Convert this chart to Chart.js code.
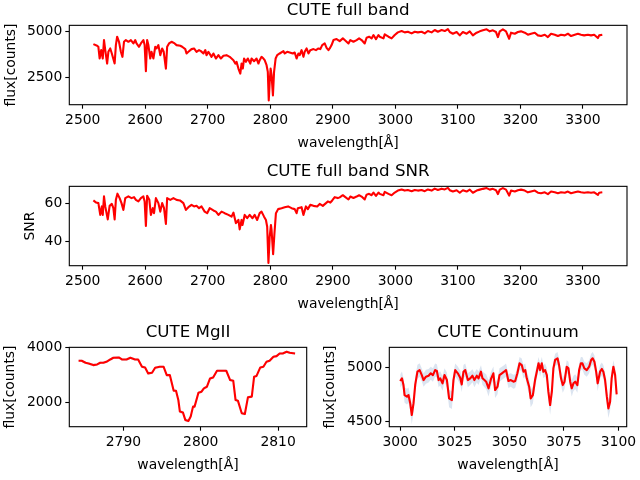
<!DOCTYPE html>
<html><head><meta charset="utf-8">
<script src="https://cdn.jsdelivr.net/npm/chart.js@4.4.0/dist/chart.umd.min.js"></script>
<style>
html,body{margin:0;padding:0;background:#fff;}
body{width:640px;height:480px;position:relative;overflow:hidden;}
canvas{position:absolute;}
</style></head><body>
<canvas id="c1" width="640" height="160" style="left:0;top:0;width:640px;height:160px"></canvas>
<canvas id="c2" width="640" height="160" style="left:0;top:161px;width:640px;height:160px"></canvas>
<canvas id="c3" width="320" height="158" style="left:0;top:322px;width:320px;height:158px"></canvas>
<canvas id="c4" width="320" height="158" style="left:320px;top:322px;width:320px;height:158px"></canvas>
<script>
// ---------- DATA ----------
const fullWave = [
2517,2523,2525,2527,2529.5,2532,2534,2536,2539,2541,
2544,2546.5,2551,2553,2555,2558,2561,2563.5,2566,2569,
2573,2577,2581,2584,2586,2590,2593,2597,2599,2601,
2603,2605,2608,2610,2613,2616,2618,2621,2624,2627,
2629.5,2633,2635,2638,2642,2647,2650,2656,2659,2664,
2666,2669,2674,2678,2682,2686,2689,2693,2696,2698,
2701,2706,2709,2713,2717,2721,2725,2730,2735,2738,
2741,2744,2746,2749,2752,2754,2756,2758,2761,2764,
2768,2770,2774,2778,2781,2783,2786,2789,2791,2794,
2796,2797.5,2799,2800.5,2802,2804.2,2806,2808.5,2811,2815,
2821,2823,2827,2831,2836,2839,2842,2845,2847,2850,
2853,2855,2858,2861,2864,2869,2873,2877,2880,2883,
2887,2890,2893,2895,2898,2901,2906,2911,2916,2919,
2925,2928,2933,2938,2942,2946,2951,2954,2958,2962,
2965,2969,2973,2975,2981,2983,2989,2994,2999,3004,
3010,3015,3020,3026,3031,3036,3042,3047,3052,3058,
3063,3068,3074,3079,3084,3087,3092,3098,3103,3108,
3114,3119,3124,3130,3135,3140,3146,3151,3156,3161,
3164,3167,3172,3177,3182,3185,3191,3196,3201,3207,
3212,3217,3223,3228,3233,3239,3244,3249,3255,3260,
3265,3271,3276,3281,3287,3292,3297,3302,3308,3313,
3318,3324,3326,3331];
const fullFlux = [
4306,4215,4160,3522,3978,3522,4525,3978,3248,3887,
4069,3795,3248,4251,4707,4433,3887,3613,4433,4525,
4433,4525,4342,4525,4342,4160,4342,4525,4251,2829,
4525,4251,3522,3887,3522,4160,4069,4251,3704,4069,
3887,2975,4160,4342,4433,4342,4251,4215,4160,4033,
3795,3887,4033,4069,3887,3978,3923,3795,3978,3704,
3887,3613,3795,3522,3704,3522,3668,3704,3613,3522,
3431,3249,3340,2975,2702,3249,2975,3522,3340,3522,
3249,3522,3376,3522,3249,3431,3613,3522,3431,3157,
2793,1243,2246,2975,2611,1517,2793,3522,3704,3795,
3923,3795,3887,3850,3795,3850,3522,3795,3704,3978,
3613,3887,4069,3795,3978,4033,3978,4069,4033,4251,
4342,4105,3978,4069,4251,4525,4579,4470,4616,4525,
4342,4525,4433,4525,4616,4525,4342,4652,4707,4616,
4798,4579,4798,4707,4616,4835,4707,4616,4798,4944,
5017,4944,4980,4889,4980,4944,4980,4889,5017,4944,
5071,4980,5071,5017,5126,4962,4871,4962,4780,4962,
4871,4999,4780,4926,4999,5053,5108,4999,5053,4962,
4689,4999,5108,4999,4597,4926,4871,4962,4999,4926,
4816,4871,4926,4780,4743,4816,4689,4871,4816,4743,
4816,4780,4871,4743,4816,4871,4816,4780,4816,4780,
4816,4634,4780,4816];

const snrWave = [
2517,2521.5,2525,2528,2530.5,2532,2534,2536,2540,2543,
2546.5,2549,2551,2553,2555.5,2559,2562,2565,2568,2573,
2578,2582,2585,2589,2593,2597,2599,2601,2603,2606.5,
2609,2612,2614,2617,2621,2624,2627,2630,2633,2635,
2640,2645,2650,2655.5,2661,2665,2669,2674,2678,2682,
2686,2690,2695,2699,2703,2709,2713,2717,2722,2727,
2733,2738,2741,2745,2749,2751,2754,2755.5,2759,2763,
2767,2771.5,2775,2779,2783,2786,2790,2793,2795,2797,
2799,2801,2802,2804.5,2806.6,2809,2812.5,2818,2823,2828.4,
2834,2839,2842,2844,2850,2853,2857,2860,2864,2869,
2875,2879,2884,2889,2892,2896,2899,2903,2908,2911,
2916,2919,2925,2928,2933,2938,2942,2946,2951,2954,
2958,2962,2965,2969,2973,2975,2981,2983,2989,2994,
2999,3004,3010,3015,3020,3026,3031,3036,3042,3047,
3052,3058,3063,3068,3074,3079,3084,3087,3092,3098,
3103,3108,3114,3119,3124,3130,3135,3140,3146,3151,
3156,3161,3164,3167,3172,3177,3182,3185,3191,3196,
3201,3207,3212,3217,3223,3228,3233,3239,3244,3249,
3255,3260,3265,3271,3276,3281,3287,3292,3297,3302,
3308,3313,3318,3324,3326,3331];
const snrVals = [
61.4,60.3,60.0,53.9,58.3,53.9,63.5,58.3,51.6,58.6,
59.6,57.4,51.6,61.7,64.9,62.6,60.0,56.5,62.6,63.5,
62.6,63.1,61.7,60.9,62.6,63.5,60.9,48.2,63.8,61.7,
53.9,57.4,54.8,62.6,60.0,55.6,60.0,57.4,49.2,62.6,
61.7,62.6,61.7,61.4,60.0,56.5,57.9,59.1,58.3,58.6,
57.4,58.3,55.6,54.8,57.4,56.2,55.6,53.9,55.6,54.8,
53.9,53.0,55.1,49.6,51.3,46.4,51.3,48.7,53.9,52.2,
53.9,52.2,53.9,51.3,54.8,55.6,53.0,51.3,47.8,29.0,
42.6,48.7,46.1,33.6,44.3,54.8,56.9,57.4,57.9,58.3,
57.4,56.9,54.8,57.4,57.9,53.9,58.3,56.9,59.1,58.6,
58.3,59.6,58.6,60.0,60.9,60.3,61.4,63.1,62.6,63.0,
64.1,63.4,61.9,63.4,62.7,63.4,64.1,63.4,61.9,64.4,
64.8,64.1,65.5,63.8,65.5,64.8,64.1,65.8,64.8,64.1,
65.5,66.5,67.1,66.5,66.8,66.2,66.8,66.5,66.8,66.2,
67.1,66.5,67.5,66.8,67.5,67.1,67.9,66.7,66.0,66.7,
65.4,66.7,66.0,67.0,65.4,66.5,67.0,67.4,67.8,67.0,
67.4,66.7,64.7,67.0,67.8,67.0,63.9,66.5,66.0,66.7,
67.0,66.5,65.6,66.0,66.5,65.4,65.1,65.6,64.7,66.0,
65.6,65.1,65.6,65.4,66.0,65.1,65.6,66.0,65.6,65.4,
65.6,65.4,65.6,64.3,65.4,65.6];

const mgWave = [
2784.2,2784.6,2785.1,2785.5,2786.1,2786.6,2787.0,2787.4,2787.8,2788.3,
2788.7,2789.4,2789.8,2790.4,2790.9,2791.5,2791.9,2792.4,2792.8,2793.2,
2793.7,2794.1,2794.7,2795.2,2795.6,2796.0,2796.5,2796.8,2797.1,2797.3,
2797.7,2798.0,2798.4,2798.7,2799.0,2799.2,2799.7,2800.1,2800.4,2800.8,
2801.2,2801.6,2802.1,2802.7,2803.3,2803.8,2804.2,2804.5,2804.8,2805.3,
2805.7,2806.1,2806.6,2806.9,2807.2,2807.7,2808.1,2808.5,2808.9,2809.4,
2809.8,2810.2,2810.6,2811.1,2811.5,2812.2];
const mgFlux = [
3514,3514,3442,3417,3357,3381,3442,3442,3478,3563,
3624,3636,3563,3563,3624,3563,3563,3296,3272,3054,
3078,3260,3296,3296,2993,2993,2424,2424,2084,1660,
1624,1357,1321,1478,1842,1842,2351,2387,2509,2569,
2872,2908,3151,3151,3151,2811,2787,2084,2060,1599,
1575,2181,2206,2933,2957,3272,3296,3478,3514,3660,
3684,3781,3781,3842,3805,3781];
const mgErr = [
45,45,45,45,45,45,45,45,45,45,
45,45,45,45,45,45,45,48,48,50,
50,48,48,48,50,50,52,52,55,55,
55,58,58,58,55,55,52,52,50,50,
48,48,45,45,45,48,48,52,52,55,
55,52,52,48,48,45,45,45,45,45,
45,45,45,45,45,45];

const coWave = [
3000.0,3000.8,3001.5,3002.0,3003.1,3003.8,3004.6,3005.3,3006.1,3006.9,
3007.9,3008.9,3009.9,3010.7,3011.8,3013.0,3014.0,3015.0,3016.0,3016.8,
3017.6,3018.3,3019.4,3020.3,3021.4,3022.4,3023.7,3024.4,3025.2,3026.4,
3027.5,3028.2,3029.0,3029.8,3031.0,3032.1,3033.1,3034.0,3035.1,3035.9,
3037.0,3037.7,3038.6,3039.4,3040.5,3041.7,3042.7,3043.5,3044.6,3045.5,
3046.6,3047.6,3048.5,3049.6,3050.7,3051.9,3052.7,3053.7,3054.7,3055.7,
3056.5,3057.3,3058.0,3059.1,3059.8,3060.8,3061.8,3062.6,3063.4,3064.1,
3064.9,3065.6,3066.4,3067.2,3067.9,3068.7,3069.5,3070.2,3071.0,3072.1,
3072.8,3073.7,3074.5,3075.3,3076.3,3077.1,3077.9,3078.6,3079.4,3080.2,
3081.2,3082.0,3082.8,3083.5,3084.4,3085.5,3086.6,3087.5,3088.2,3089.0,
3089.8,3090.5,3091.6,3092.4,3093.1,3093.9,3094.7,3095.4,3096.2,3096.9,
3097.7,3098.5,3099.2];
const coFlux = [
4874,4899,4837,4745,4730,4745,4668,4561,4668,4843,
4960,4975,4929,4883,4914,4923,4945,4929,4975,4966,
4883,4899,4853,4929,4883,4714,4699,4883,4975,4945,
4905,4843,4960,4975,4883,4899,4923,4883,4923,4899,
4960,4899,4883,4868,4807,4899,4945,4791,4822,4929,
4945,4960,4975,4874,4883,4868,4874,4945,5037,5021,
4960,4975,4899,4822,4714,4745,4883,4960,5037,4975,
5037,4960,4975,4929,4776,4653,4776,4991,5068,5083,
5021,4899,4837,4868,5006,4991,4868,4807,4853,4868,
4837,4975,5037,5037,4991,4975,5006,5068,5083,5052,
4960,4853,4960,4985,4960,4883,4730,4622,4684,4899,
5006,4929,4751];
const coErr = [
60,62,65,70,72,70,75,85,80,70,
65,62,60,62,65,62,60,62,60,62,
65,65,68,62,70,80,82,68,60,62,
65,70,62,60,65,62,60,65,62,62,
60,62,65,68,75,65,62,72,70,62,
60,60,60,65,62,65,65,60,58,60,
62,60,65,70,80,78,65,60,58,60,
58,60,60,65,78,88,78,62,58,58,
60,65,70,68,60,60,68,75,70,68,
70,62,58,58,60,62,60,58,58,60,
62,70,62,60,62,65,78,88,82,65,
60,62,75];

const fullXTicks = [2500,2600,2700,2800,2900,3000,3100,3200,3300];
const fullYTicks = [2500,5000];
const snrYTicks = [40,60];
const mgXTicks = [2790,2800,2810];
const mgYTicks = [2000,4000];
const coXTicks = [3000,3025,3050,3075,3100];
const coYTicks = [4500,5000];

// ---------- RENDER ----------
const FONT = "'DejaVu Sans', sans-serif";
Chart.defaults.color = '#000';
const RED = '#ff0000';
const BAND = 'rgba(176,196,222,0.45)';

const framePlugin = {
  id: 'frame',
  afterDraw(chart) {
    const {ctx, chartArea: a} = chart;
    ctx.save();
    ctx.strokeStyle = '#000';
    ctx.lineWidth = 1.1;
    ctx.strokeRect(a.left, a.top, a.right - a.left, a.bottom - a.top);
    ctx.restore();
  }
};

function pts(xs, ys) { return xs.map((x, i) => ({x: x, y: ys[i]})); }
function shifted(xs, ys, es, sgn) { return xs.map((x, i) => ({x: x, y: ys[i] + sgn * es[i]})); }

function lineDs(data) {
  return {data, borderColor: RED, borderWidth: 2.1, pointRadius: 0, tension: 0,
          fill: false, borderJoinStyle: 'round', borderCapStyle: 'butt'};
}
function bandDs(xs, ys, es) {
  return [
    {data: shifted(xs, ys, es, -1), borderWidth: 0, pointRadius: 0, fill: false, borderColor: 'rgba(0,0,0,0)'},
    {data: shifted(xs, ys, es, 1), borderWidth: 0, pointRadius: 0, fill: '-1', borderColor: 'rgba(0,0,0,0)', backgroundColor: BAND}
  ];
}

function makeChart(id, o) {
  const H = o.H, W = o.W;
  return new Chart(document.getElementById(id), {
    type: 'line',
    data: {datasets: o.datasets},
    options: {
      responsive: false, animation: false, devicePixelRatio: 1,
      layout: {padding: {left: 0, right: W - o.right, top: 0, bottom: 0}},
      plugins: {
        legend: {display: false}, tooltip: {enabled: false},
        title: {display: true, text: o.title, fullSize: false, color: '#000',
                font: {family: FONT, size: 16.7, weight: 'normal', lineHeight: 1.2},
                padding: {top: 1, bottom: 4.3}}
      },
      scales: {
        x: {
          type: 'linear', min: o.xMin, max: o.xMax,
          afterBuildTicks: s => { s.ticks = o.xTicks.map(v => ({value: v})); },
          afterFit: s => { s.height = H - 104.7; },
          grid: {display: true, drawOnChartArea: false, drawTicks: true, tickLength: 4, tickColor: '#000', tickWidth: 1.1},
          border: {display: false},
          ticks: {color: '#000', font: {family: FONT, size: 13.9}, padding: 3, maxRotation: 0, autoSkip: false, callback: v => String(v)},
          title: {display: true, text: 'wavelength[Å]', color: '#000', font: {family: FONT, size: 13.9, lineHeight: 1.2},
                  padding: {top: 0, bottom: H - 143 - 8.34}}
        },
        y: {
          type: 'linear', min: o.yMin, max: o.yMax,
          afterBuildTicks: s => { s.ticks = o.yTicks.map(v => ({value: v})); },
          afterFit: s => { s.width = 69.3; },
          grid: {display: true, drawOnChartArea: false, drawTicks: true, tickLength: 4, tickColor: '#000', tickWidth: 1.1},
          border: {display: false},
          ticks: {color: '#000', font: {family: FONT, size: 13.9}, padding: 3, autoSkip: false, callback: v => String(v)},
          title: {display: true, text: o.yLabel, color: '#000', font: {family: FONT, size: 13.9, lineHeight: 1.2},
                  padding: {top: o.yTitlePad, bottom: 0}}
        }
      }
    },
    plugins: [framePlugin]
  });
}

makeChart('c1', {
  W: 640, H: 160, right: 627, title: 'CUTE full band',
  datasets: [lineDs(pts(fullWave, fullFlux))],
  xMin: 2478.5, xMax: 3370.5, yMin: 1010, yMax: 5326,
  xTicks: fullXTicks, yTicks: fullYTicks, yLabel: 'flux[counts]', yTitlePad: 2.7
});
makeChart('c2', {
  W: 640, H: 160, right: 627, title: 'CUTE full band SNR',
  datasets: [lineDs(pts(snrWave, snrVals))],
  xMin: 2478.5, xMax: 3370.5, yMin: 27.6, yMax: 68.7,
  xTicks: fullXTicks, yTicks: snrYTicks, yLabel: 'SNR', yTitlePad: 22
});
makeChart('c3', {
  W: 320, H: 158, right: 306.7, title: 'CUTE MgII',
  datasets: [lineDs(pts(mgWave, mgFlux))].concat(bandDs(mgWave, mgFlux, mgErr)),
  xMin: 2783.0, xMax: 2813.7, yMin: 1110, yMax: 4005,
  xTicks: mgXTicks, yTicks: mgYTicks, yLabel: 'flux[counts]', yTitlePad: 1.7
});
makeChart('c4', {
  W: 320, H: 158, right: 306.7, title: 'CUTE Continuum',
  datasets: [lineDs(pts(coWave, coFlux))].concat(bandDs(coWave, coFlux, coErr)),
  xMin: 2995.0, xMax: 3103.8, yMin: 4454, yMax: 5184,
  xTicks: coXTicks, yTicks: coYTicks, yLabel: 'flux[counts]', yTitlePad: 1.7
});
</script>
</body></html>
